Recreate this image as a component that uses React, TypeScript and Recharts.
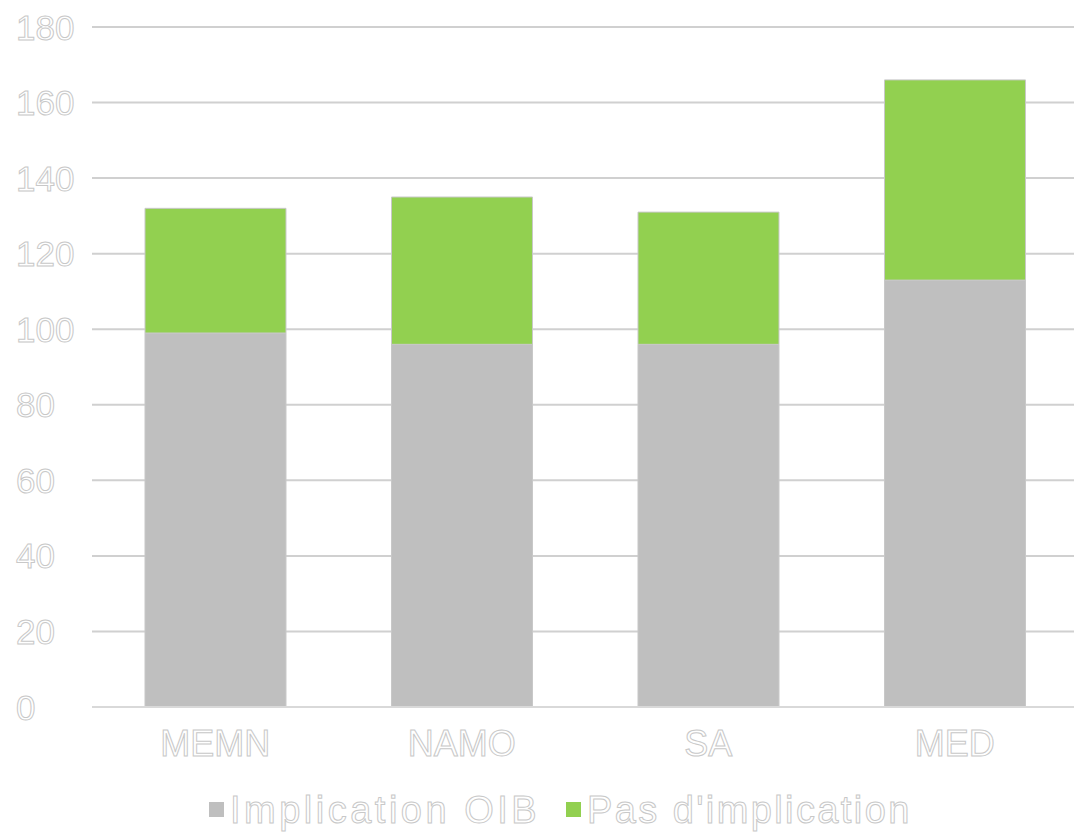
import { BarChart, Bar, XAxis, YAxis, CartesianGrid, Legend } from "recharts";

const regions = ["MEMN", "NAMO", "SA", "MED"];
const implication = [99, 96, 96, 113];
const pasImplication = [33, 39, 35, 53];
const yTicks = [0, 20, 40, 60, 80, 100, 120, 140, 160, 180];

const data = regions.map((r, i) => ({
  region: r,
  implication: implication[i],
  pas: pasImplication[i],
}));

const textStyle = {
  fill: "#ffffff",
  stroke: "#c8c8c8",
  strokeWidth: 1,
  fontFamily: "'Liberation Sans', Arial, sans-serif",
};

function YTick({ y, payload }: any) {
  return (
    <text x={16} y={y} dominantBaseline="central" textAnchor="start" fontSize={35} {...textStyle}>
      {payload.value}
    </text>
  );
}

function XTick({ x, y, payload }: any) {
  return (
    <text x={x} y={y + 28} dominantBaseline="central" textAnchor="middle" fontSize={36} {...textStyle}>
      {payload.value}
    </text>
  );
}

function LegendBox() {
  const items = [
    { label: "Implication OIB", color: "#bfbfbf", spacing: 3.5 },
    { label: "Pas d'implication", color: "#92d050", spacing: 2.4 },
  ];
  return (
    <svg width={1074} height={52} style={{ display: "block" }}>
      {items.map((it, i) => {
        const x0 = i === 0 ? 209 : 566;
        return (
          <g key={it.label}>
            <rect x={x0} y={20} width={15} height={15} fill={it.color} />
            <text x={x0 + 21} y={28} dominantBaseline="central" fontSize={38} letterSpacing={it.spacing} {...textStyle}>
              {it.label}
            </text>
          </g>
        );
      })}
    </svg>
  );
}

export default function App() {
  return (
    <div style={{ position: "absolute", left: 0, top: 0, width: 1074, height: 834, background: "#fff", overflow: "hidden" }}>
      <BarChart
        width={1078}
        height={834}
        data={data}
        margin={{ top: 27, right: 0, bottom: 0, left: 0 }}
        barCategoryGap="21.5%"
      >
        <CartesianGrid vertical={false} stroke="#d0d0d0" strokeWidth={2} />
        <XAxis
          dataKey="region"
          height={75}
          tick={<XTick />}
          tickLine={false}
          axisLine={{ stroke: "#d9d9d9", strokeWidth: 2 }}
        />
        <YAxis
          width={92}
          domain={[0, 180]}
          ticks={yTicks}
          tick={<YTick />}
          tickLine={false}
          axisLine={false}
        />
        <Legend
          verticalAlign="bottom"
          height={52}
          content={() => <LegendBox />}
          wrapperStyle={{ left: 0, width: 1074 }}
        />
        <Bar
          dataKey="implication"
          stackId="a"
          fill="#bfbfbf"
          stroke="#c8c8c8"
          strokeWidth={1}
          isAnimationActive={false}
        />
        <Bar
          dataKey="pas"
          stackId="a"
          fill="#92d050"
          stroke="#c8c8c8"
          strokeWidth={1}
          isAnimationActive={false}
        />
      </BarChart>
    </div>
  );
}
